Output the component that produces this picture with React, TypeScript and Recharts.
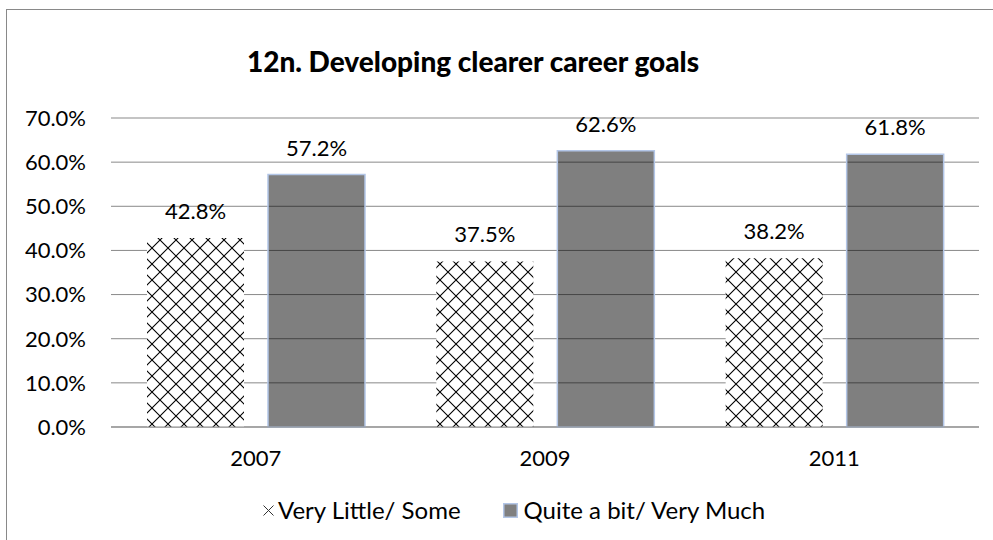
import React from "react";
import {
  Bar,
  BarChart,
  CartesianGrid,
  LabelList,
  Legend,
  XAxis,
  YAxis,
} from "recharts";

const years = ["2007", "2009", "2011"];
const veryLittle = [42.8, 37.5, 38.2];
const quiteABit = [57.2, 62.6, 61.8];
const yTicks = [0, 10, 20, 30, 40, 50, 60, 70];

const seriesNames = {
  little: "Very Little/ Some",
  much: "Quite a bit/ Very Much",
};

const data = years.map((year, i) => ({
  year,
  little: veryLittle[i],
  much: quiteABit[i],
}));

const font = "Lato, 'Open Sans', sans-serif";
const gridGray = "#898989";

const pct = (v: number) => `${Number(v).toFixed(1)}%`;

function LegendBox(props: any) {
  const items = props.payload || [];
  const find = (key: string) => items.find((it: any) => it.dataKey === key);
  const little = find("little");
  const much = find("much");
  return (
    <div
      style={{
        display: "flex",
        alignItems: "center",
        fontFamily: font,
        fontSize: 24,
        lineHeight: "28px",
        color: "#000",
        whiteSpace: "nowrap",
      }}
    >
      {little && (
        <div style={{ display: "flex", alignItems: "center" }}>
          <svg width={13} height={13} style={{ display: "block" }}>
            <path d="M1.5,1.5 L11.5,11.5 M11.5,1.5 L1.5,11.5" stroke="#333" strokeWidth={1} />
          </svg>
          <span style={{ marginLeft: 3 }}>{little.value}</span>
        </div>
      )}
      {much && (
        <div style={{ display: "flex", alignItems: "center", marginLeft: 42 }}>
          <svg width={15} height={15} style={{ display: "block" }}>
            <rect x={0.75} y={0.75} width={13.5} height={13.5} fill="#808080" stroke="#b3c6e7" strokeWidth={1.5} />
          </svg>
          <span style={{ marginLeft: 6 }}>{much.value}</span>
        </div>
      )}
    </div>
  );
}

export default function App() {
  return (
    <div
      style={{
        position: "absolute",
        left: 0,
        top: 0,
        width: 993,
        height: 540,
        background: "#fff",
        overflow: "hidden",
      }}
    >
      <div
        style={{
          position: "absolute",
          left: 6,
          top: 9,
          width: 1100,
          height: 700,
          borderTop: `1px solid ${gridGray}`,
          borderLeft: `1px solid ${gridGray}`,
        }}
      />
      <div
        style={{
          position: "absolute",
          left: 0,
          width: 946,
          top: 42,
          textAlign: "center",
          fontFamily: font,
          fontWeight: 900,
          fontSize: 28,
          lineHeight: "38px",
          color: "#000",
        }}
      >
        12n. Developing clearer career goals
      </div>
      <BarChart
        width={993}
        height={540}
        data={data}
        margin={{ top: 118, right: 14, bottom: 83, left: 11 }}
        barCategoryGap={36}
        barGap={24}
        style={{ position: "absolute", left: 0, top: 0 }}
      >
        <defs>
          <pattern id="crossHatch" patternUnits="userSpaceOnUse" width={16} height={16}>
            <rect width={16} height={16} fill="#fff" />
            <path
              d="M0,0 L16,16 M16,0 L0,16"
              stroke="#000"
              strokeWidth={1.1}
            />
          </pattern>
        </defs>
        <CartesianGrid vertical={false} stroke={gridGray} strokeWidth={1} />
        <XAxis
          dataKey="year"
          height={30}
          tickLine={false}
          axisLine={{ stroke: gridGray }}
          tickMargin={17}
          tick={{ fontFamily: font, fontSize: 22, fill: "#000" }}
        />
        <YAxis
          width={100}
          domain={[0, 70]}
          ticks={yTicks}
          tickFormatter={pct}
          tickLine={false}
          axisLine={false}
          tickMargin={19}
          tick={{ fontFamily: font, fontSize: 22, fill: "#000" }}
        />
        <Legend
          layout="horizontal"
          verticalAlign="middle"
          align="center"
          content={<LegendBox />}
          wrapperStyle={{ position: "absolute", left: 262, top: 496, width: "auto" }}
        />
        <Bar
          dataKey="little"
          name={seriesNames.little}
          fill="url(#crossHatch)"
          isAnimationActive={false}
        >
          <LabelList
            dataKey="little"
            position="top"
            offset={19}
            formatter={pct}
            style={{ fontFamily: font, fontSize: 22, fill: "#000" }}
          />
        </Bar>
        <Bar
          dataKey="much"
          name={seriesNames.much}
          fill="#000"
          fillOpacity={0.5}
          stroke="#b3c6e7"
          strokeWidth={1.5}
          isAnimationActive={false}
        >
          <LabelList
            dataKey="much"
            position="top"
            offset={19}
            formatter={pct}
            style={{ fontFamily: font, fontSize: 22, fill: "#000" }}
          />
        </Bar>
      </BarChart>
    </div>
  );
}
